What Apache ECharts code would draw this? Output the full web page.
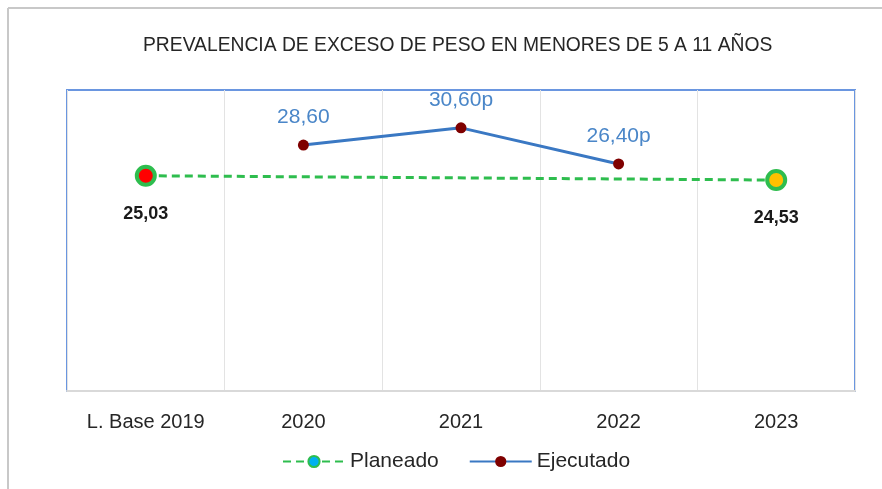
<!DOCTYPE html>
<html><head><meta charset="utf-8">
<script src="https://cdn.jsdelivr.net/npm/echarts@6/dist/echarts.min.js"></script>
<style>html,body{margin:0;padding:0;background:#fff;}#c{width:882px;height:489px;}</style>
</head><body><div id="c"></div>
<script>
const title = 'PREVALENCIA DE EXCESO DE PESO EN MENORES DE 5 A 11 AÑOS';
const categories = ['L. Base 2019', '2020', '2021', '2022', '2023'];
const planeado = [25.03, null, null, null, 24.53];
const ejecutado = [null, 28.60, 30.60, 26.40, null];
const ejecutadoLabels = ['', '28,60', '30,60p', '26,40p', ''];
const planeadoPointColors = ['#ff0000', null, null, null, '#ffc000'];

const FONT = "'Liberation Sans', sans-serif";
const chart = echarts.init(document.getElementById('c'));
chart.setOption({
  animation: false,
  backgroundColor: '#fff',
  title: {
    text: title, left: 138, top: 31,
    textStyle: { fontFamily: FONT, fontSize: 19.3, fontWeight: 'normal', color: '#262626' }
  },
  graphic: [
    { type: 'line', shape: { x1: 8, y1: 8, x2: 882, y2: 8 }, style: { stroke: '#c8c8c8', lineWidth: 2 } },
    { type: 'line', shape: { x1: 8, y1: 8, x2: 8, y2: 489 }, style: { stroke: '#c8c8c8', lineWidth: 2 } }
  ],
  grid: { left: 67, right: 27, top: 90, bottom: 98, show: true, borderColor: '#6a96e0', borderWidth: 2, backgroundColor: '#fff' },
  legend: {
    bottom: 12, left: 277, itemWidth: 62, itemHeight: 14, itemGap: 30,
    textStyle: { fontFamily: FONT, fontSize: 21, color: '#262626' },
    data: ['Planeado', 'Ejecutado']
  },
  xAxis: {
    type: 'category', data: categories, boundaryGap: true,
    axisLine: { show: true, lineStyle: { color: '#d9d9d9', width: 2 } },
    axisTick: { show: false },
    splitLine: { show: true, lineStyle: { color: '#e3e3e3', width: 1 } },
    axisLabel: { fontFamily: FONT, fontSize: 20, color: '#262626', margin: 21 }
  },
  yAxis: {
    type: 'value', min: 0, max: 35, show: false, splitLine: { show: false }
  },
  series: [
    {
      name: 'Planeado', type: 'line', connectNulls: true,
      data: planeado.map((v, i) => v == null ? null : ({
        value: v,
        itemStyle: { color: planeadoPointColors[i], borderColor: '#2ebd4e', borderWidth: 4 }
      })),
      symbol: 'circle', symbolSize: 18,
      itemStyle: { color: '#00b0f0', borderColor: '#2ebd4e', borderWidth: 4 },
      lineStyle: { color: '#2ebd4e', width: 3, type: [8, 5] },
      label: {
        show: true, position: 'bottom', distance: 18,
        formatter: p => p.value == null ? '' : p.value.toFixed(2).replace('.', ','),
        fontFamily: FONT, fontSize: 18, fontWeight: 'bold', color: '#1a1a1a'
      },
      z: 3
    },
    {
      name: 'Ejecutado', type: 'line',
      data: ejecutado,
      symbol: 'circle', symbolSize: 11,
      itemStyle: { color: '#7f0000' },
      lineStyle: { color: '#3a78c3', width: 3 },
      label: {
        show: true, position: 'top', distance: 12,
        formatter: p => ejecutadoLabels[p.dataIndex],
        fontFamily: FONT, fontSize: 21, color: '#4a86c8'
      },
      z: 4
    }
  ]
});
</script></body></html>
